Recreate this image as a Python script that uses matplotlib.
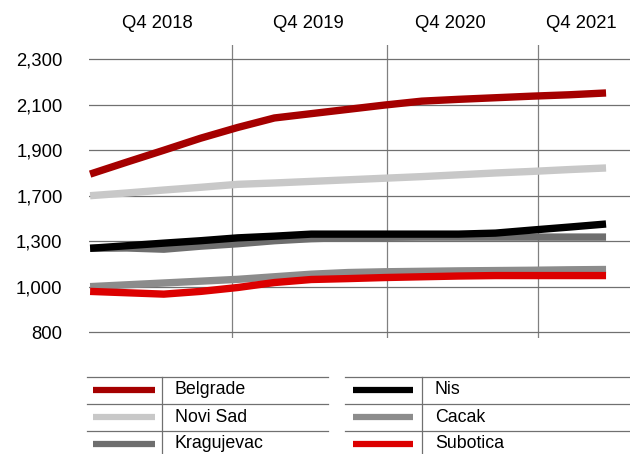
import numpy as np
import matplotlib.pyplot as plt

plt.rcParams['font.family'] = ['Liberation Sans', 'DejaVu Sans']

# quarterly values, Q2 2018 .. Q4 2021
quarters = ['Q2 2018', 'Q3 2018', 'Q4 2018', 'Q1 2019', 'Q2 2019', 'Q3 2019', 'Q4 2019',
            'Q1 2020', 'Q2 2020', 'Q3 2020', 'Q4 2020', 'Q1 2021', 'Q2 2021', 'Q3 2021', 'Q4 2021']
belgrade = [1795, 1848, 1900, 1953, 2000, 2042, 2061, 2080, 2099, 2116, 2124, 2131, 2138, 2144, 2152]
novi_sad = [1700, 1712, 1725, 1737, 1750, 1756, 1763, 1770, 1777, 1784, 1792, 1800, 1807, 1815, 1822]
kragujevac = [1253, 1255, 1247, 1267, 1283, 1304, 1322, 1331, 1334, 1336, 1336, 1336, 1336, 1336, 1336]
nis = [1253, 1270, 1287, 1304, 1329, 1344, 1362, 1362, 1362, 1362, 1362, 1371, 1398, 1424, 1451]
cacak = [1000, 1012, 1024, 1036, 1048, 1065, 1082, 1093, 1098, 1101, 1104, 1106, 1108, 1111, 1113]
subotica = [979, 973, 967, 979, 996, 1027, 1047, 1053, 1060, 1065, 1070, 1073, 1073, 1073, 1073]

series = [('Belgrade', belgrade, '#a50000'),
          ('Novi Sad', novi_sad, '#c8c8c8'),
          ('Kragujevac', kragujevac, '#6e6e6e'),
          ('Nis', nis, '#000000'),
          ('Cacak', cacak, '#8c8c8c'),
          ('Subotica', subotica, '#dc0000')]

yticks = [800, 1000, 1300, 1700, 1900, 2100, 2300]
ylabels = ['800', '1,000', '1,300', '1,700', '1,900', '2,100', '2,300']
top_labels = ['Q4 2018', 'Q4 2019', 'Q4 2020', 'Q4 2021']

# the source axis puts its (uneven) tick values at even steps
T = np.array(yticks, float)
I = np.arange(len(T), dtype=float)


def fwd(v):
    v = np.asarray(v, float)
    out = np.interp(v, T, I)
    out = np.where(v < T[0], (v - T[0]) / (T[1] - T[0]), out)
    out = np.where(v > T[-1], I[-1] + (v - T[-1]) / (T[-1] - T[-2]), out)
    return out


def inv(u):
    u = np.asarray(u, float)
    out = np.interp(u, I, T)
    out = np.where(u < I[0], T[0] + u * (T[1] - T[0]), out)
    out = np.where(u > I[-1], T[-1] + (u - I[-1]) * (T[-1] - T[-2]), out)
    return out


W, H = 630, 454
fig = plt.figure(figsize=(W / 100, H / 100), dpi=100)
ax = fig.add_axes([89 / W, 1 - 338 / H, 541 / W, (338 - 45) / H])

x = np.arange(len(quarters))
for name, vals, col in series:
    ax.plot(x, vals, color=col, lw=5.3, solid_capstyle='butt', solid_joinstyle='round', zorder=3)

ax.set_yscale('function', functions=(fwd, inv))
ax.set_ylim(774, 2363)
ax.set_xlim(-0.03, 14.65)
ax.set_yticks(yticks)
ax.set_yticklabels(ylabels)
ax.yaxis.grid(True, color='#707070', lw=0.9)
ax.tick_params(axis='y', length=0, pad=19, labelsize=13.3)

for gx in [3.85, 8.06, 12.15]:
    ax.axvline(gx, color='#808080', lw=0.9, zorder=1)

ax.xaxis.tick_top()
ax.set_xticks([1.82, 5.92, 9.77, 13.32])
ax.set_xticklabels(top_labels)
ax.tick_params(axis='x', length=0, pad=9, labelsize=13.3)
for s in ax.spines.values():
    s.set_visible(False)

# table-style legend at the bottom, laid out in pixel coordinates
lax = fig.add_axes([0, 0, 1, 1], zorder=-1)
lax.set_xlim(0, W)
lax.set_ylim(H, 0)
lax.axis('off')
cols = [(87, 328, 162, 93, 155, 175), (345, 630, 422, 353, 413, 435)]
rows = [377, 404, 431]
for c, (x0, x1, xsep, s0, s1, tx) in enumerate(cols):
    lax.plot([xsep, xsep], [rows[0], H], color='#707070', lw=0.9)
    for r, ytop in enumerate(rows):
        name, vals, col = series[c * 3 + r]
        lax.plot([x0, x1], [ytop, ytop], color='#707070', lw=0.9)
        yc = ytop + 13
        lax.plot([s0, s1], [yc, yc], color=col, lw=4.5, solid_capstyle='butt')
        lax.text(tx, yc, name, fontsize=12.8, va='center', ha='left')

fig.savefig('out.png', dpi=100)
